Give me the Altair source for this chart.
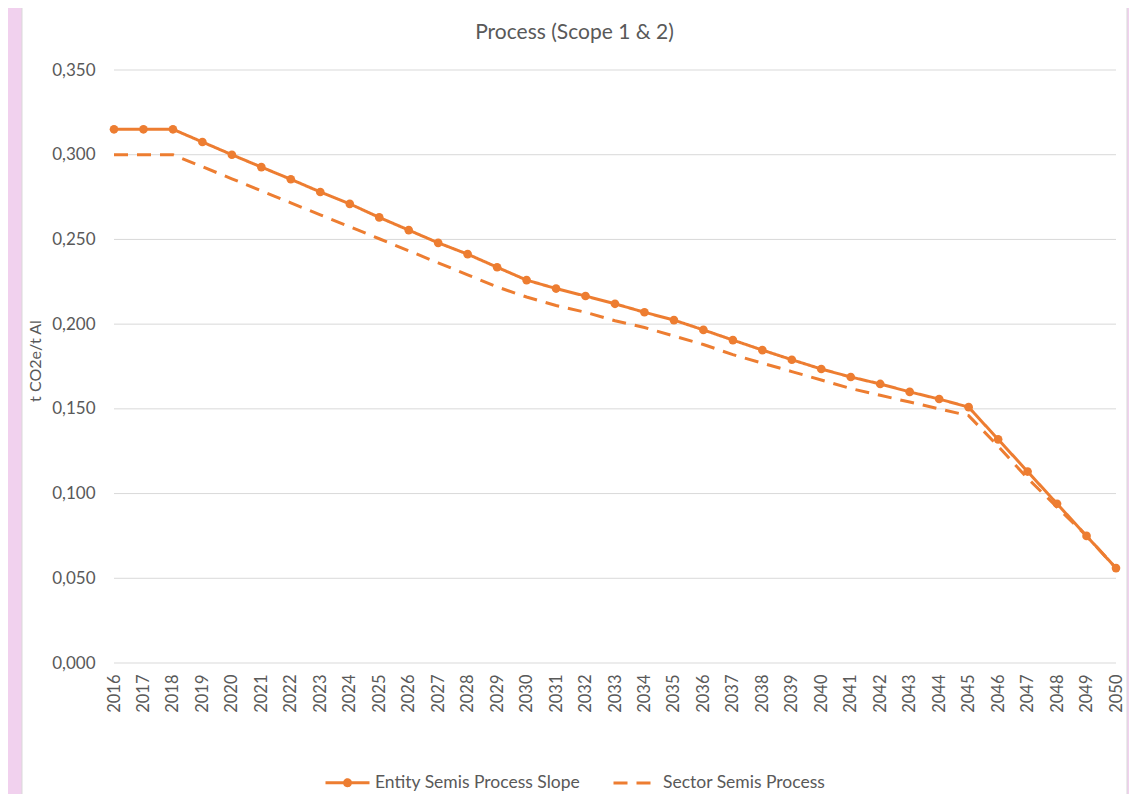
import altair as alt
import pandas as pd

years = list(range(2016, 2051))
entity = [0.315, 0.315, 0.315, 0.3075, 0.300, 0.2927, 0.2855, 0.278, 0.271, 0.263,
          0.2555, 0.248, 0.2413, 0.2336, 0.226, 0.221, 0.2166, 0.212, 0.207, 0.2024,
          0.1966, 0.1906, 0.1847, 0.179, 0.1735, 0.1688, 0.1647, 0.160, 0.1558, 0.151,
          0.132, 0.113, 0.094, 0.075, 0.056]
sector = [0.300, 0.300, 0.300, 0.2929, 0.2858, 0.2787, 0.2716, 0.2645, 0.2575, 0.2504,
          0.2433, 0.2362, 0.2291, 0.2220, 0.216, 0.211, 0.207, 0.202, 0.198, 0.193,
          0.188, 0.182, 0.177, 0.172, 0.167, 0.162, 0.158, 0.154, 0.150, 0.146,
          0.128, 0.109, 0.092, 0.075, 0.056]
series_names = ["Entity Semis Process Slope", "Sector Semis Process"]
y_ticks = [0.0, 0.05, 0.10, 0.15, 0.20, 0.25, 0.30, 0.35]
title_text = "Process (Scope 1 & 2)"
y_title = "t CO2e/t Al"

ORANGE = "#ED7D31"
TEXT = "#595959"
GRID = "#D9D9D9"
FONT = "Lato"

df = pd.DataFrame({
    "year": [str(y) for y in years] * 2,
    "value": entity + sector,
    "series": [series_names[0]] * len(years) + [series_names[1]] * len(years),
})
df_entity = df[df["series"] == series_names[0]]

W, H = 1002, 593

bg = alt.Chart(pd.DataFrame({"a": [0]})).mark_rect(
    fill="white", stroke=GRID, strokeWidth=1
).encode(
    x=alt.value(-92), x2=alt.value(1013), y=alt.value(-75), y2=alt.value(740)
)

title = alt.Chart(pd.DataFrame({"t": [title_text]})).mark_text(
    font=FONT, fontSize=21, color=TEXT, align="center", baseline="middle"
).encode(
    text="t:N", x=alt.value(460.5), y=alt.value(-37)
)

circle_path = ("M-1,0L1,0M-0.136,0A0.136,0.136,0,1,1,0.136,0"
               "A0.136,0.136,0,1,1,-0.136,0Z")
shape_expr = f"datum.value == '{series_names[0]}' ? '{circle_path}' : 'M-1,0L1,0'"
fill_expr = f"datum.value == '{series_names[0]}' ? '{ORANGE}' : 'transparent'"

legend = alt.Legend(
    title=None, orient="none", direction="horizontal",
    legendX=210, legendY=689,
    labelFont=FONT, labelFontSize=17.5, labelColor=TEXT, labelLimit=0,
    symbolSize=1936, symbolStrokeWidth=3, labelOffset=4,
    columnPadding=26,
    symbolType=alt.ExprRef(expr=shape_expr),
    symbolFillColor=alt.ExprRef(expr=fill_expr),
)

x_enc = alt.X(
    "year:O",
    scale=alt.Scale(type="point", padding=0),
    axis=alt.Axis(
        title=None, labelAngle=-90, labelFont=FONT, labelFontSize=16.5,
        labelColor=TEXT, labelPadding=11, ticks=False, domain=False,
        grid=False, labelOverlap=False, zindex=1,
    ),
)
y_enc = alt.Y(
    "value:Q",
    scale=alt.Scale(domain=[0, 0.35], nice=False),
    axis=alt.Axis(
        values=y_ticks,
        labelExpr="replace(format(datum.value, '.3f'), '.', ',')",
        title=y_title, titleFont=FONT, titleFontSize=16,
        titleFontWeight="normal", titleColor=TEXT, titleAngle=-90,
        titleX=-79, titleY=H / 2 - 6, titleAlign="center", titleBaseline="middle",
        labelFont=FONT, labelFontSize=17, labelColor=TEXT, labelPadding=19,
        ticks=False, domain=False, grid=False, zindex=1,
    ),
)

grid = alt.Chart(pd.DataFrame({"v": y_ticks})).mark_rule(
    color=GRID, strokeWidth=1
).encode(y=alt.Y("v:Q"))

lines = alt.Chart(df).mark_line(strokeWidth=3).encode(
    x=x_enc,
    y=y_enc,
    color=alt.Color(
        "series:N",
        scale=alt.Scale(domain=series_names, range=[ORANGE, ORANGE]),
        legend=legend,
    ),
    strokeDash=alt.StrokeDash(
        "series:N",
        scale=alt.Scale(domain=series_names, range=[[1, 0], [14, 9]]),
        legend=legend,
    ),
)

points = alt.Chart(df_entity).mark_circle(size=75, opacity=1, color=ORANGE).encode(
    x=alt.X("year:O", scale=alt.Scale(type="point", padding=0)),
    y=alt.Y("value:Q"),
)

chart = alt.layer(bg, title, grid, lines, points).properties(
    width=W, height=H,
    autosize=alt.AutoSizeParams(type="none"),
    padding={"left": 106, "top": 62, "right": 13, "bottom": 131},
).configure(
    background="#F1D1EE",
).configure_view(
    stroke=None,
)

chart.save("out.html", embed_options={"renderer": "svg", "actions": False})
